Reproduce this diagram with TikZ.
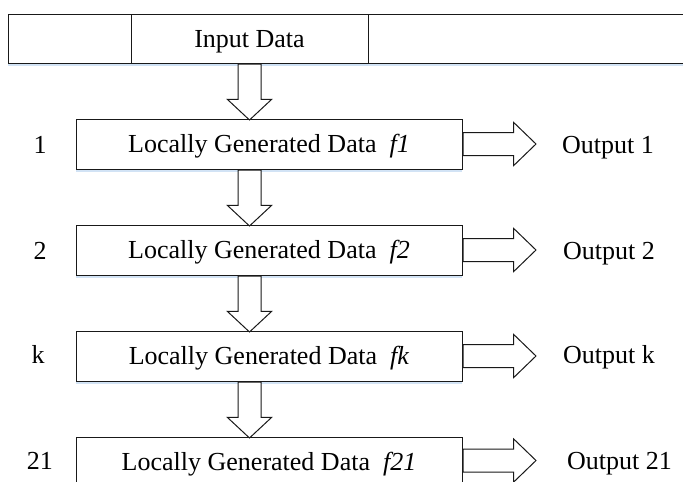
\documentclass[tikz,border=0pt]{standalone}
\usepackage{fontspec}
\setmainfont{Liberation Serif}
\usetikzlibrary{shapes.arrows,shadows}
\definecolor{edge}{RGB}{25,25,25}
\definecolor{glow}{RGB}{205,224,244}
\begin{document}
\begin{tikzpicture}[x=1pt,y=-1pt,
  font=\fontsize{26}{30}\selectfont,
  capcentred/.style={text height=17.1pt, text depth=0pt},
  blockbox/.style={draw=edge, line width=1pt, fill=white, inner sep=0pt, capcentred,
    drop shadow={fill=glow, shadow xshift=0pt, shadow yshift=-3pt, opacity=0.9}},
  stagebox/.style={blockbox, minimum width=386pt, minimum height=50pt},
  fatarrow/.style={single arrow, draw=edge, line width=1pt, fill=white,
    text height=0pt, text depth=0pt, text width=0pt,
    inner xsep=0pt, inner ysep=11pt, anchor=tail},
  downarrow/.style={fatarrow, rotate=-90, minimum height=56pt,
    single arrow head extend=10.5pt, single arrow tip angle=94},
  rightarrow/.style={fatarrow, minimum height=73pt,
    single arrow head extend=10pt, single arrow tip angle=88},
  plain/.style={inner sep=0pt, capcentred}]
\useasboundingbox (0,0) rectangle (683,482);

% input strip running off the right edge, with the input box on top
\node[blockbox, minimum width=692pt, minimum height=49pt] (strip) at (354,38.5) {};
\node[blockbox, minimum width=237pt, minimum height=49pt] (input) at (249.5,38.5) {Input Data};

% processing stages
\node[stagebox] (b1) at (269,144) {Locally Generated Data\ \ \textit{f1}};
\node[stagebox] (b2) at (269,250) {Locally Generated Data\ \ \textit{f2}};
\node[stagebox] (b3) at (269,356) {Locally Generated Data\ \ \textit{fk}};
\node[stagebox] (b4) at (269,462) {Locally Generated Data\ \ \textit{f21}};

% stage numbers
\node[plain] (n1) at (40,145) {1};
\node[plain] (n2) at (40,251) {2};
\node[plain] (n3) at (38,355) {k};
\node[plain] (n4) at (40,461) {21};

% block arrows down the chain
\node[downarrow] (d0) at (input.south) {};
\node[downarrow] (d1) at (b1.south -| input.south) {};
\node[downarrow] (d2) at (b2.south -| input.south) {};
\node[downarrow] (d3) at (b3.south -| input.south) {};

% block arrows to the outputs
\node[rightarrow] (r1) at (b1.east) {};
\node[rightarrow] (r2) at (b2.east) {};
\node[rightarrow] (r3) at (b3.east) {};
\node[rightarrow] (r4) at ([yshift=1.5pt]b4.east) {};

% outputs
\node[plain, anchor=west] (o1) at (562,145) {Output 1};
\node[plain, anchor=west] (o2) at (563,251) {Output 2};
\node[plain, anchor=west] (o3) at (563,355) {Output k};
\node[plain, anchor=west] (o4) at (567,461) {Output 21};
\end{tikzpicture}
\end{document}
